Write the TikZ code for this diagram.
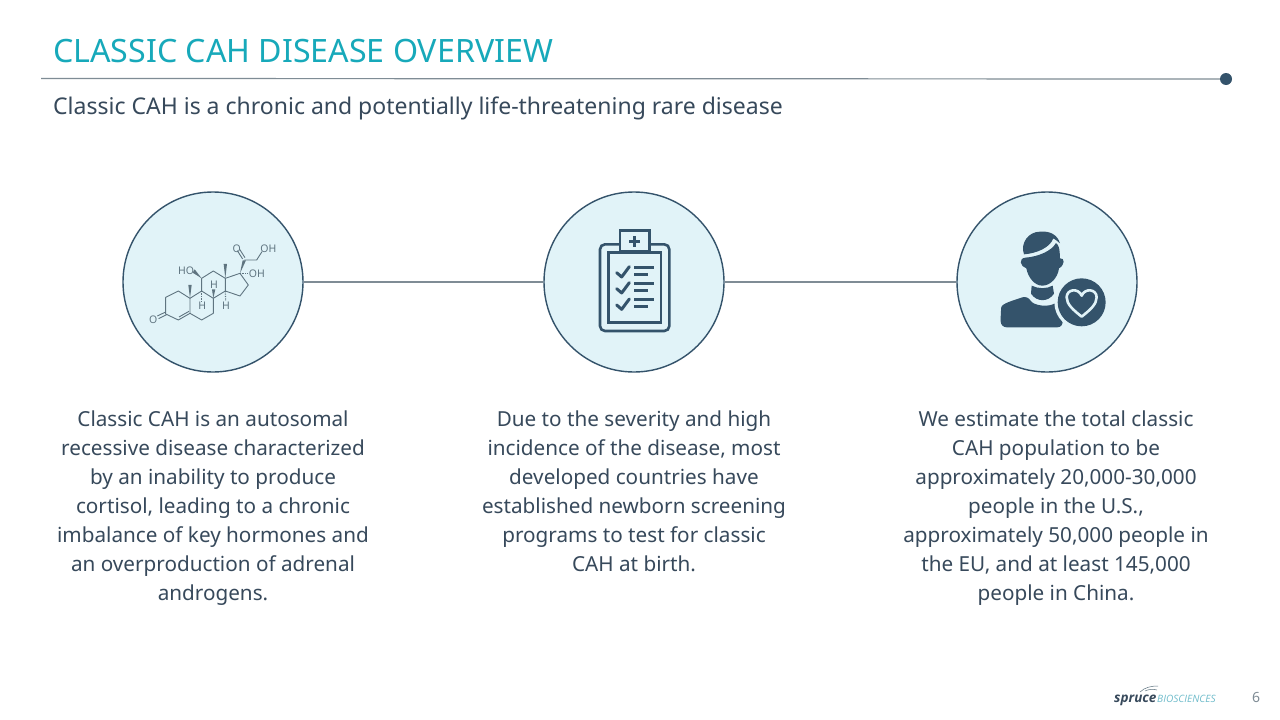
\documentclass[tikz,border=0pt]{standalone}
\usepackage{fontspec}
\setmainfont{Noto Sans}
\newfontfamily\logofont{Open Sans}
\definecolor{titleteal}{HTML}{17A9BA}
\definecolor{inkblue}{HTML}{34536B}
\definecolor{bodyink}{HTML}{37495B}
\definecolor{paleblue}{HTML}{E1F3F8}
\definecolor{rulegray}{HTML}{7F8C95}
\definecolor{molgray}{HTML}{5F7480}
\definecolor{logoteal}{HTML}{6FBCCB}
\tikzset{
  titletext/.style={anchor=base west,inner sep=0,text=titleteal,font=\fontsize{32.15}{34}\selectfont},
  subtext/.style={anchor=base west,inner sep=0,text=bodyink,font=\fontsize{23.0}{26}\selectfont},
  bodytext/.style={anchor=north,inner sep=0,align=center,text=bodyink,font=\fontsize{20.7}{29}\selectfont},
  bubble/.style={circle,draw=inkblue,line width=1.4pt,fill=paleblue,minimum size=180pt,inner sep=0},
  link/.style={draw=rulegray,line width=1.2pt},
  bond/.style={draw=molgray,line width=.9pt},
  wedge/.style={fill=molgray,draw=none},
  hash/.style={draw=molgray,line width=1.1pt,dash pattern=on .8pt off .9pt},
  atom/.style={inner sep=0,text=molgray,font=\fontsize{10.5}{10}\selectfont},
  clipline/.style={draw=inkblue,line width=2.6pt},
  cliptick/.style={draw=inkblue,line width=3pt,line cap=round,line join=round},
}
\begin{document}
\begin{tikzpicture}[x=1pt,y=-1pt]
\useasboundingbox (0,0) rectangle (1280,720);
\fill[white] (0,0) rectangle (1280,720);
% header
\node[titletext] (title) at (53,62) {CLASSIC CAH DISEASE OVERVIEW};
\coordinate (ruleL) at (41,78.5);
\node[circle,fill=inkblue,minimum size=12pt,inner sep=0] (ruleDot) at (1226,79) {};
\draw[link] (ruleL) -- (ruleDot);
\node[subtext] (sub) at (53,114.5) {Classic CAH is a chronic and potentially life-threatening rare disease};
% circles
\node[bubble] (c1) at (213,282) {};
\node[bubble] (c2) at (634,282) {};
\node[bubble] (c3) at (1047,282) {};
\draw[link] (c1) -- (c2);
\draw[link] (c2) -- (c3);
% molecule
\begin{scope}[shift={(120,190)},x=.3333pt,y=-.3333pt]
\draw[bond,line join=round] (137,372) -- (137,322) -- (175,303) -- (210,325) -- (210,370) -- (175,390) -- cycle;
\draw[bond] (207,364) -- (177,381);
\draw[bond] (112,378) -- (137,366) (116,386) -- (140,374);
\draw[bond,line join=round] (210,325) -- (245,303) -- (280,325) -- (280,370) -- (245,390) -- (210,370);
\draw[bond,line join=round] (245,303) -- (245,265) -- (280,243) -- (316,265) -- (316,303) -- (280,325);
\draw[bond,line join=round] (316,265) -- (360,250) -- (385,285) -- (360,318) -- (316,303);
\draw[bond] (373,210) -- (410,210) -- (426,185);
\draw[bond] (368,207) -- (352,182) (375,203) -- (359,178);
\fill[wedge] (360,250) -- (368,211) -- (378,211) -- cycle;
\fill[wedge] (316,265) -- (311,222) -- (321,222) -- cycle;
\fill[wedge] (210,325) -- (205,285) -- (215,285) -- cycle;
\fill[wedge] (245,265) -- (224,238) -- (218,248) -- cycle;
\fill[wedge] (280,325) -- (276,298) -- (286,298) -- cycle;
\draw[hash] (360,250) -- (385,250);
\draw[hash] (245,303) -- (245,335);
\draw[hash] (316,303) -- (317,333);
\node[atom] (oa) at (100,388) {O};
\node[atom] (ob) at (350,175) {O};
\node[atom] (oh1) at (445,175) {OH};
\node[atom] (oh2) at (411,250) {OH};
\node[atom] (oh3) at (198,243) {HO};
\node[atom] (h1) at (247,347) {H};
\node[atom] (h2) at (282,285) {H};
\node[atom] (h3) at (318,347) {H};
\end{scope}
% clipboard
\begin{scope}[shift={(580,215)},x=.3333pt,y=-.3333pt]
\draw[clipline,rounded corners=5pt] (60,88) rectangle (268,348);
\draw[clipline] (85,113) rectangle (243,323);
\draw[clipline,fill=paleblue] (120,47) rectangle (208,110);
\draw[inkblue,line width=2.4pt] (148,80) -- (180,80) (164,64) -- (164,96);
\foreach \yy in {0,48,97} {
  \draw[cliptick] (110,\yy+173) -- (125,\yy+186) -- (148,\yy+155);
  \draw[cliptick,line cap=butt] (162,\yy+158) -- (221,\yy+158);
  \draw[cliptick,line cap=butt] (162,\yy+179) -- (205,\yy+179);
}
\end{scope}
% person
\begin{scope}[shift={(985,215)},x=.3333pt,y=-.3333pt]
\fill[inkblue] (117,118) .. controls (105,85) and (130,50) .. (165,50) .. controls (195,47) and (218,60) .. (225,85) .. controls (218,78) and (212,75) .. (205,70) .. controls (195,98) and (155,115) .. (117,118) -- cycle;
\fill[inkblue] (121,128) .. controls (160,125) and (200,108) .. (213,84) .. controls (220,90) and (224,95) .. (225,130) .. controls (240,128) and (240,150) .. (222,160) .. controls (218,190) and (195,212) .. (172,212) .. controls (150,212) and (130,190) .. (124,160) .. controls (105,155) and (100,130) .. (121,128) -- cycle;
\fill[inkblue] (140,212) .. controls (160,222) and (185,222) .. (203,212) -- (207,236) .. controls (190,262) and (155,262) .. (138,236) -- cycle;
\fill[inkblue,rounded corners=6pt] (47,337) -- (47,295) .. controls (50,265) and (90,255) .. (128,241) .. controls (145,272) and (190,278) .. (225,255) -- (235,337) -- cycle;
\fill[paleblue] (290,262) circle[radius=82];
\fill[inkblue] (290,262) circle[radius=72];
\draw[paleblue,line width=2.6pt,line join=round] (290,305) .. controls (265,285) and (245,268) .. (245,247) .. controls (245,222) and (280,218) .. (290,242) .. controls (300,218) and (335,222) .. (335,247) .. controls (335,268) and (315,285) .. (290,305) -- cycle;
\end{scope}
% body text
\node[bodytext] (t1) at (213,410.8) {Classic CAH is an autosomal\\recessive disease characterized\\by an inability to produce\\cortisol, leading to a chronic\\imbalance of key hormones and\\an overproduction of adrenal\\androgens.};
\node[bodytext] (t2) at (634,410.8) {Due to the severity and high\\incidence of the disease, most\\developed countries have\\established newborn screening\\programs to test for classic\\CAH at birth.};
\node[bodytext] (t3) at (1056,410.8) {We estimate the total classic\\CAH population to be\\approximately 20,000-30,000\\people in the U.S.,\\approximately 50,000 people in\\the EU, and at least 145,000\\people in China.};
% footer
\node[anchor=base west,inner sep=0,text=bodyink,font=\logofont\fontsize{13.5}{14}\selectfont\bfseries\itshape] (logoA) at (1114,702) {spruce};
\node[anchor=base west,inner sep=0,text=logoteal,font=\logofont\fontsize{10.1}{9}\selectfont\itshape] (logoB) at (1157,702) {BIOSCIENCES};
\draw[molgray,line width=.5pt] (1140,692) .. controls (1145,687) and (1152,686) .. (1158,686);
\draw[molgray,line width=.5pt] (1145,691) .. controls (1149,689) and (1153,689) .. (1157,690);
\node[anchor=base,inner sep=0,text=rulegray,font=\fontsize{14}{14}\selectfont] (pg) at (1256,702) {6};
\end{tikzpicture}
\end{document}
